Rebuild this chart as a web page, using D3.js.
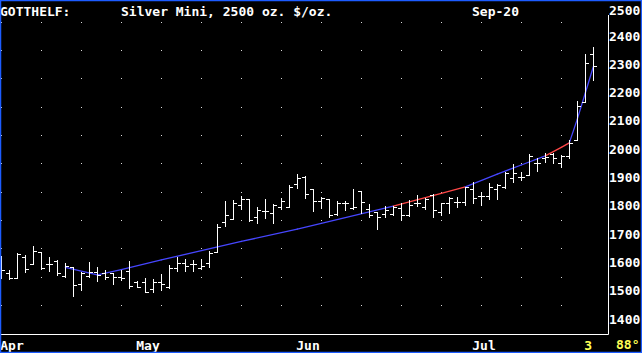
<!DOCTYPE html>
<html>
<head>
<meta charset="utf-8">
<script src="https://cdn.jsdelivr.net/npm/d3@7"></script>
<style>
  html, body { margin: 0; padding: 0; background: #000; }
  svg { display: block; }
  text { font-family: "DejaVu Sans Mono", "Liberation Mono", monospace; font-weight: bold; font-size: 13px; }
</style>
</head>
<body>
<div id="chart"></div>
<script>
'use strict';

// daily bars, Sep-20 silver mini (cents/oz), one per trading day
var opens  = [1590, 1564, 1546, 1618, 1593, 1636, 1595, 1606, 1553, 1583,
              1524, 1553, 1567, 1561, 1562, 1548, 1570, 1532, 1530, 1505,
              1530, 1512, 1579, 1597, 1593, 1581, 1597, 1636, 1742, 1752,
              1803, 1824, 1759, 1783, 1776, 1797, 1797, 1876, 1901, 1858,
              1817, 1823, 1771, 1809, 1791, 1853, 1788, 1777, 1771, 1771,
              1791, 1767, 1811, 1797, 1838, 1777, 1811, 1814, 1814, 1858,
              1835, 1835, 1858, 1865, 1897, 1903, 1909, 1950, 1970, 1983,
              1950, 1976, 2032, 2168, 2336];
var highs  = [1623, 1573, 1634, 1626, 1658, 1636, 1618, 1609, 1597, 1585,
              1567, 1600, 1583, 1573, 1562, 1573, 1605, 1535, 1544, 1540,
              1558, 1591, 1620, 1611, 1609, 1612, 1641, 1736, 1818, 1820,
              1836, 1824, 1795, 1824, 1806, 1829, 1873, 1912, 1905, 1858,
              1830, 1823, 1818, 1817, 1859, 1853, 1805, 1779, 1799, 1799,
              1809, 1820, 1838, 1826, 1842, 1811, 1832, 1830, 1867, 1885,
              1850, 1879, 1877, 1920, 1946, 1920, 1982, 1968, 1985, 1987,
              1979, 2032, 2171, 2336, 2362];
var lows   = [1546, 1540, 1546, 1567, 1593, 1576, 1570, 1556, 1550, 1483,
              1503, 1550, 1536, 1540, 1523, 1538, 1509, 1512, 1497, 1497,
              1503, 1511, 1571, 1571, 1571, 1576, 1585, 1636, 1730, 1752,
              1789, 1746, 1738, 1756, 1740, 1788, 1797, 1862, 1826, 1783,
              1791, 1759, 1767, 1785, 1788, 1776, 1761, 1718, 1761, 1767,
              1750, 1764, 1799, 1788, 1759, 1767, 1773, 1795, 1803, 1811,
              1803, 1824, 1824, 1862, 1885, 1891, 1909, 1924, 1953, 1950,
              1936, 1968, 2032, 2167, 2244];
var closes = [1573, 1546, 1630, 1576, 1641, 1579, 1595, 1564, 1587, 1520,
              1564, 1567, 1556, 1550, 1547, 1544, 1518, 1512, 1497, 1530,
              1523, 1579, 1597, 1587, 1593, 1587, 1632, 1726, 1767, 1809,
              1824, 1750, 1785, 1783, 1803, 1818, 1867, 1897, 1841, 1817,
              1826, 1767, 1811, 1809, 1797, 1814, 1767, 1759, 1785, 1797,
              1767, 1803, 1811, 1823, 1785, 1809, 1826, 1814, 1865, 1826,
              1835, 1865, 1873, 1917, 1915, 1903, 1976, 1950, 1973, 1968,
              1976, 2021, 2152, 2304, 2294];

// trend curve (bar index, value) and the stretches drawn in red
var trendIdx = [8, 12, 15, 20, 30, 37, 40, 49, 55, 58, 62, 65, 68, 70, 71, 72, 73, 74];
var trendVal = [1583, 1556, 1575, 1609, 1674, 1718, 1738, 1799, 1844, 1867, 1912, 1944, 1976, 2006, 2022, 2106, 2198, 2291];
var redRanges = [[49, 58], [68, 71]];

// axis labels
var priceTicks = [2500, 2400, 2300, 2200, 2100, 2000, 1900, 1800, 1700, 1600, 1500, 1400];
var gridValues = [2450, 2350, 2250, 2150, 2050, 1950, 1850, 1750, 1650, 1550, 1450];
var monthLabels = ["Apr", "May", "Jun", "Jul"];
var monthIdx = [0, 17, 37, 59];

var svgWidth = 642, svgHeight = 353;
var frameRight = 608, frameTop = 15, frameBottom = 334;

var svg = d3.select("#chart")
  .append("svg")
  .attr("width", svgWidth)
  .attr("height", svgHeight);

svg.append("rect")
  .attr("width", svgWidth)
  .attr("height", svgHeight)
  .style("fill", "#000");

var x = d3.scaleLinear()
  .domain([0, opens.length - 1])
  .range([1.3, 593.3]);

var y = d3.scaleLinear()
  .domain([1400, 2500])
  .range([319.1, 7.5]);

// dotted grid, one column per week
var gridCols = d3.range(0, opens.length, 5);
var dots = [];
gridCols.forEach(function(c) {
  gridValues.forEach(function(v) { dots.push([c, v]); });
});
svg.append("g")
  .selectAll("rect")
  .data(dots)
  .enter()
  .append("rect")
  .attr("x", function(d) { return Math.round(x(d[0])); })
  .attr("y", function(d) { return Math.round(y(d[1])); })
  .attr("width", 1)
  .attr("height", 1)
  .style("fill", "#d8d8d8");

// frame
svg.append("path")
  .attr("d", "M" + (frameRight + 0.5) + "," + frameTop + "V" + (frameBottom + 0.5) + "H0")
  .attr("fill", "none")
  .attr("stroke", "#fff")
  .attr("stroke-width", 1);

// trend line
var segs = [];
for (var i = 0; i < trendIdx.length - 1; i++) {
  var red = redRanges.some(function(r) { return trendIdx[i] >= r[0] && trendIdx[i] < r[1]; });
  segs.push({ a: i, b: i + 1, red: red });
}
svg.append("g")
  .selectAll("line")
  .data(segs)
  .enter()
  .append("line")
  .attr("x1", function(d) { return x(trendIdx[d.a]); })
  .attr("y1", function(d) { return y(trendVal[d.a]); })
  .attr("x2", function(d) { return x(trendIdx[d.b]); })
  .attr("y2", function(d) { return y(trendVal[d.b]); })
  .attr("stroke", function(d) { return d.red ? "#ff4848" : "#4646ff"; })
  .attr("stroke-width", 1.3)
  .attr("stroke-linecap", "round");

// OHLC bars
var bars = svg.append("g")
  .attr("stroke", "#fff")
  .attr("stroke-width", 1)
  .selectAll("g")
  .data(d3.range(opens.length))
  .enter()
  .append("g");

bars.append("line")
  .attr("x1", function(d) { return Math.round(x(d)) + 0.5; })
  .attr("x2", function(d) { return Math.round(x(d)) + 0.5; })
  .attr("y1", function(d) { return Math.round(y(highs[d])); })
  .attr("y2", function(d) { return Math.round(y(lows[d])) + 1; });

bars.append("line")
  .attr("x1", function(d) { return Math.round(x(d)) - 3; })
  .attr("x2", function(d) { return Math.round(x(d)); })
  .attr("y1", function(d) { return Math.round(y(opens[d])) + 0.5; })
  .attr("y2", function(d) { return Math.round(y(opens[d])) + 0.5; });

bars.append("line")
  .attr("x1", function(d) { return Math.round(x(d)) + 1; })
  .attr("x2", function(d) { return Math.round(x(d)) + 4; })
  .attr("y1", function(d) { return Math.round(y(closes[d])) + 0.5; })
  .attr("y2", function(d) { return Math.round(y(closes[d])) + 0.5; });

// price labels on the right
svg.append("g")
  .selectAll("text")
  .data(priceTicks)
  .enter()
  .append("text")
  .attr("x", 609)
  .attr("y", function(d) { return Math.max(y(d), 10.5); })
  .attr("dy", "0.36em")
  .style("fill", "#fff")
  .text(function(d) { return d; });

// month labels
svg.append("g")
  .selectAll("text")
  .data(monthLabels)
  .enter()
  .append("text")
  .attr("x", function(d, i) { return Math.max(0, x(monthIdx[i]) - 1); })
  .attr("y", 350)
  .style("fill", "#fff")
  .text(function(d) { return d; });

svg.append("text")
  .attr("x", x(73) - 1)
  .attr("y", 350)
  .style("fill", "#ffff55")
  .text("3");

svg.append("text")
  .attr("x", 616)
  .attr("y", 349)
  .style("fill", "#ffff55")
  .text("88\u00b0");

// title line
svg.append("text").attr("x", 0).attr("y", 16).style("fill", "#fff").text("GOTTHELF:");
svg.append("text").attr("x", 121).attr("y", 16).style("fill", "#fff").text("Silver Mini, 2500 oz. $/oz.");
svg.append("text").attr("x", 472).attr("y", 16).style("fill", "#fff").text("Sep-20");

// blue border
svg.append("rect")
  .attr("x", 0.5)
  .attr("y", 0.5)
  .attr("width", svgWidth - 1)
  .attr("height", svgHeight - 1)
  .attr("fill", "none")
  .attr("stroke", "#1c5cff")
  .attr("stroke-width", 1.5);
</script>
</body>
</html>
